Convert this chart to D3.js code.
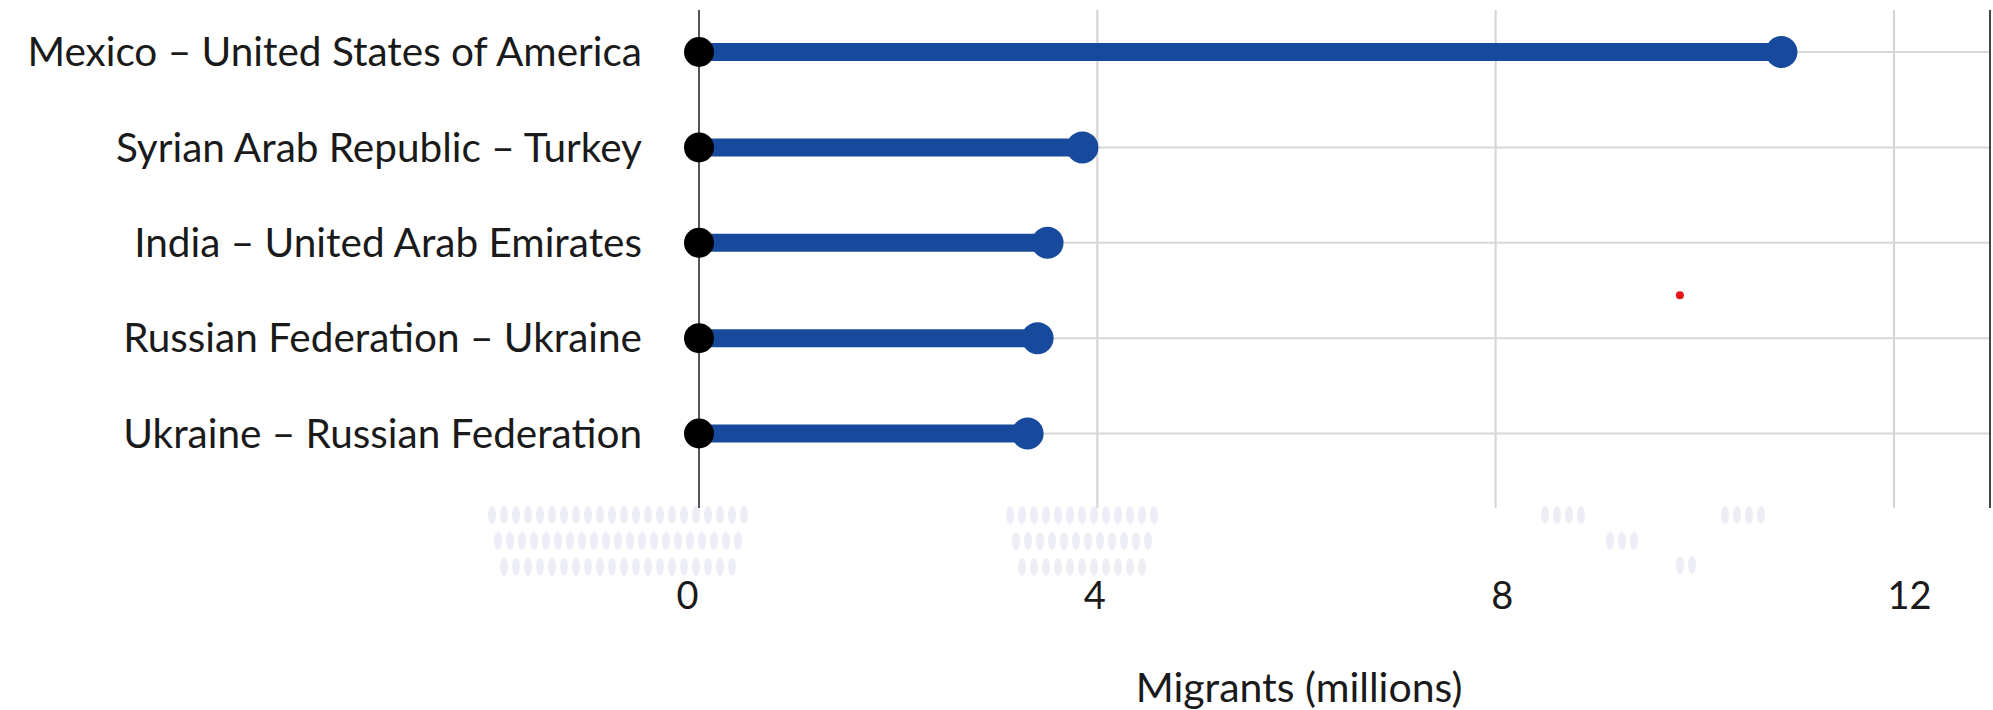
<!DOCTYPE html>
<html><head><meta charset="utf-8">
<script src="https://cdn.jsdelivr.net/npm/d3@7"></script>
<style>body{margin:0;background:#fff}svg{display:block}text{font-family:Lato,"Open Sans",sans-serif;fill:#1a1a1a}</style>
</head><body>
<svg id="c" width="1993" height="710"></svg>
<script>
const corridors = ["Mexico – United States of America","Syrian Arab Republic – Turkey","India – United Arab Emirates","Russian Federation – Ukraine","Ukraine – Russian Federation"];
const migrants = [10.87, 3.85, 3.5, 3.4, 3.3];
const tickValues = [0, 4, 8, 12];
const axisTitle = "Migrants (millions)";
const strayDot = {x: 9.85, row: 2.55};

const svg = d3.select("#c");
const plot = {left: 699, right: 1990, top: 10, bottom: 508};

const x = d3.scaleLinear().domain([0, 12]).range([699, 1894]);
const xLab = d3.scaleLinear().domain([0, 12]).range([687, 1909]);
const y = d3.scalePoint().domain(corridors).range([52, 433.5]);
const yIdx = d3.scaleLinear().domain([0, corridors.length - 1]).range([52, 433.5]);

// faint background dot pattern below plot
const bg = svg.append("g").attr("opacity", 0.6);
const dotBlocks = [[492,748,515,3],[1010,1160,515,3],[1545,1590,515,1],[1725,1770,515,1],[1610,1640,541,1],[1680,1700,565,1]];
dotBlocks.forEach(([x0,x1,y0,rows]) => {
  for (let r = 0; r < rows; r++) {
    d3.range(x0 + r*6, x1 - r*6, 12).forEach(cx => bg.append("ellipse").attr("cx", cx).attr("cy", y0 + r*26).attr("rx", 4).attr("ry", 9).attr("fill", "#e2e4f0"));
  }
});

// vertical gridlines
svg.append("g").selectAll("line").data(tickValues.filter(d => d > 0)).join("line")
  .attr("x1", d => x(d)).attr("x2", d => x(d)).attr("y1", plot.top).attr("y2", plot.bottom)
  .attr("stroke", "#d3d3d3").attr("stroke-width", 2);
// horizontal gridlines
svg.append("g").selectAll("line").data(corridors).join("line")
  .attr("x1", plot.left).attr("x2", plot.right).attr("y1", d => y(d)).attr("y2", d => y(d))
  .attr("stroke", "#d8d8d8").attr("stroke-width", 2);
// zero line & right border
svg.append("line").attr("x1", x(0)).attr("x2", x(0)).attr("y1", plot.top).attr("y2", plot.bottom).attr("stroke", "#555").attr("stroke-width", 2);
svg.append("line").attr("x1", plot.right).attr("x2", plot.right).attr("y1", plot.top).attr("y2", plot.bottom).attr("stroke", "#444").attr("stroke-width", 2);

// lollipops
const data = corridors.map((c, i) => ({c, v: migrants[i]}));
const g = svg.append("g");
g.selectAll("line.stem").data(data).join("line").attr("class","stem")
  .attr("x1", x(0)).attr("x2", d => x(d.v)).attr("y1", d => y(d.c)).attr("y2", d => y(d.c))
  .attr("stroke", "#174a9c").attr("stroke-width", 18);
g.selectAll("circle.end").data(data).join("circle").attr("class","end")
  .attr("cx", d => x(d.v)).attr("cy", d => y(d.c)).attr("r", 16).attr("fill", "#174a9c");
g.selectAll("circle.start").data(data).join("circle").attr("class","start")
  .attr("cx", x(0)).attr("cy", d => y(d.c)).attr("r", 15).attr("fill", "#000");

// stray red dot
svg.append("circle").attr("cx", x(strayDot.x)).attr("cy", yIdx(strayDot.row)).attr("r", 4).attr("fill", "#e8141b");

// y labels
svg.append("g").selectAll("text").data(corridors).join("text")
  .attr("x", 642).attr("y", d => y(d)).attr("dy", "0.35em").attr("text-anchor", "end")
  .attr("font-size", 40.5).text(d => d);

// x axis labels
const xAxis = d3.axisBottom(xLab).tickValues(tickValues).tickSize(0).tickPadding(0);
const ax = svg.append("g").attr("transform", "translate(0,582)").call(xAxis);
ax.select(".domain").remove();
ax.selectAll("text").attr("font-size", 38).style("font-family", "Lato").attr("fill", "#1a1a1a");

svg.append("text").attr("x", 1299).attr("y", 688).attr("dy", "0.35em").attr("text-anchor", "middle")
  .attr("font-size", 41).text(axisTitle);
</script>
</body></html>
